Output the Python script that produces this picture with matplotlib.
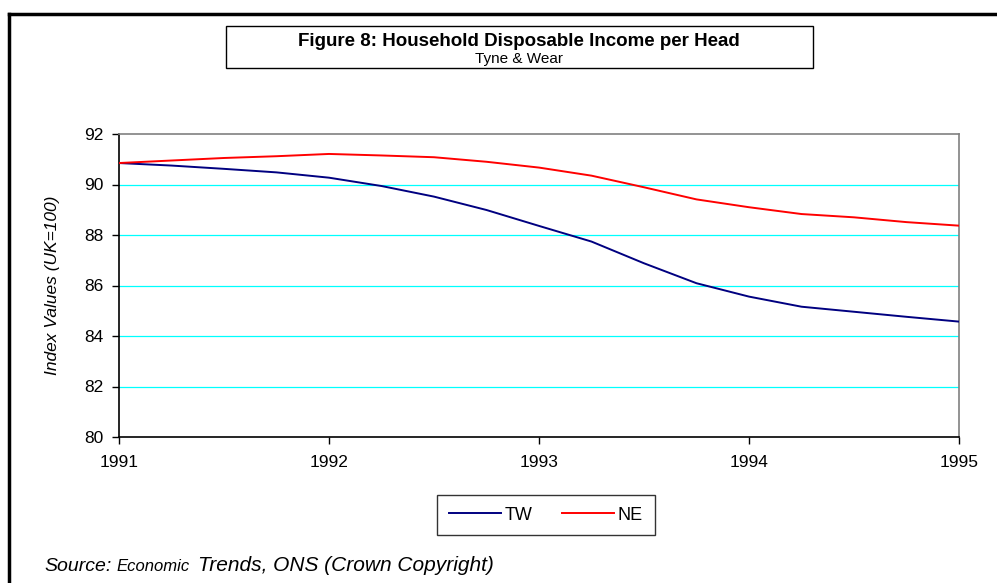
"""Figure 8: Household Disposable Income per Head - Tyne & Wear."""
import matplotlib
matplotlib.use("Agg")
import matplotlib.pyplot as plt
from matplotlib.patches import Rectangle
from matplotlib.lines import Line2D

plt.rcParams["font.family"] = ["Liberation Sans", "DejaVu Sans"]

# quarterly points 1991..1995
quarters = [1991 + q / 4 for q in range(17)]
tw = [90.85, 90.75, 90.62, 90.48, 90.27, 89.94, 89.52, 88.99, 88.36,
      87.74, 86.88, 86.09, 85.56, 85.16, 84.96, 84.76, 84.57]
ne = [90.85, 90.95, 91.05, 91.12, 91.21, 91.15, 91.08, 90.90, 90.67,
      90.35, 89.89, 89.41, 89.10, 88.83, 88.70, 88.51, 88.37]
years = [1991, 1992, 1993, 1994, 1995]
yticks = [80, 82, 84, 86, 88, 90, 92]

W, H = 997, 583
fig = plt.figure(figsize=(W / 100, H / 100), dpi=100)
ax = fig.add_axes([119 / W, 1 - 437 / H, (959 - 119) / W, (437 - 134) / H])

# cyan gridlines
for y in yticks[1:-1]:
    ax.axhline(y, color="#00ffff", lw=0.9, zorder=1)

ax.plot(quarters, tw, color="#000080", lw=1.4, label="TW", zorder=3)
ax.plot(quarters, ne, color="#ff0000", lw=1.4, label="NE", zorder=3)

ax.set_xlim(1991, 1995)
ax.set_ylim(80, 92)
ax.set_xticks(years)
ax.set_xticklabels([str(y) for y in years])
ax.set_yticks(yticks)
ax.tick_params(axis="both", labelsize=12.5, length=5, width=1, color="#000000")
ax.tick_params(axis="y", pad=6)
ax.tick_params(axis="x", pad=8)
ax.spines["left"].set_color("#000000")
ax.spines["bottom"].set_color("#000000")
ax.spines["top"].set_color("#808080")
ax.spines["right"].set_color("#808080")
for s in ax.spines.values():
    s.set_linewidth(1.2)
ax.set_ylabel("Index Values (UK=100)", style="italic", fontsize=12.5)
ax.yaxis.set_label_coords((60 - 119) / (959 - 119), 0.5)

# outer frame (top and left edges visible)
fig.add_artist(Line2D([9 / W, 1.0], [1 - 14 / H] * 2, color="black", lw=2.5))
fig.add_artist(Line2D([9 / W] * 2, [0, 1 - 14 / H], color="black", lw=2.5))

# title box
fig.add_artist(Rectangle((226 / W, 1 - 68 / H), (813 - 226) / W, 42 / H,
                         facecolor="white", edgecolor="black", lw=1))
fig.text(519 / W, 1 - 46 / H, "Figure 8: Household Disposable Income per Head",
         ha="center", va="baseline", fontsize=13.5, fontweight="bold")
fig.text(519 / W, 1 - 63.5 / H, "Tyne & Wear", ha="center", va="baseline",
         fontsize=11)

# legend
fig.legend(loc="center", bbox_to_anchor=(546 / W, 1 - 515 / H), ncol=2,
           fontsize=13, frameon=True, fancybox=False, edgecolor="black",
           handlelength=2.9, handletextpad=0.2, columnspacing=1.6,
           borderpad=0.65, borderaxespad=0)

fig.text(44 / W, 1 - 571 / H, "Source:", style="italic", fontsize=14,
         va="baseline")
fig.text(116 / W, 1 - 571 / H, "Economic", style="italic", fontsize=12,
         va="baseline")
fig.text(198 / W, 1 - 571 / H, "Trends, ONS (Crown Copyright)", style="italic",
         fontsize=15, va="baseline")

fig.savefig("out.png", dpi=100)
